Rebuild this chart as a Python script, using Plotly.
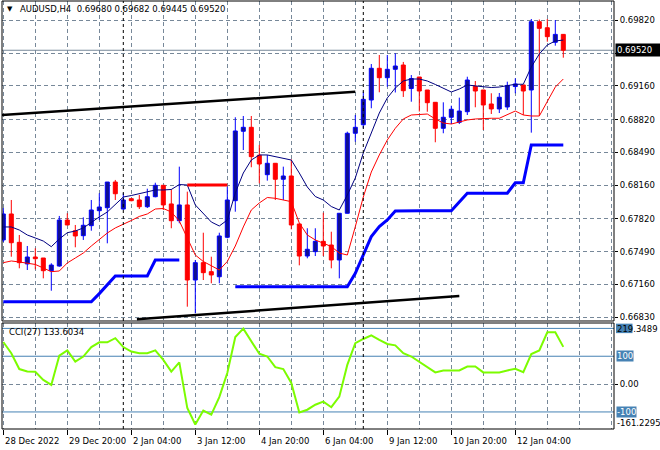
import plotly.graph_objects as go

# ---------------- data (AUDUSD H4) ----------------
open_ = [0.67607, 0.67869, 0.67583, 0.67365, 0.67435, 0.67425, 0.67297, 0.67344, 0.67808, 0.67700,
         0.67650, 0.67751, 0.67902, 0.67932, 0.68191, 0.67919, 0.68023, 0.68010, 0.67942, 0.68043,
         0.68158, 0.67970, 0.67801, 0.67960, 0.67203, 0.67378, 0.67287, 0.67236, 0.67634, 0.68003,
         0.68703, 0.68743, 0.68461, 0.68265, 0.68380, 0.68219, 0.68252, 0.67768, 0.67445, 0.67489,
         0.67593, 0.67556, 0.67405, 0.67876, 0.68683, 0.68769, 0.69018, 0.69338, 0.69243, 0.69328,
         0.69371, 0.69134, 0.69250, 0.69119, 0.68995, 0.68733, 0.68844, 0.68793, 0.68900, 0.69156,
         0.69119, 0.68978, 0.68928, 0.68948, 0.69154, 0.69170, 0.69119, 0.69808, 0.69747, 0.69600,
         0.69680]
high = [0.67929, 0.68010, 0.67657, 0.67546, 0.67523, 0.67425, 0.67372, 0.67849, 0.67876, 0.67758,
        0.67835, 0.68010, 0.68078, 0.68191, 0.68212, 0.68078, 0.68023, 0.68060, 0.68124, 0.68184,
        0.68158, 0.68118, 0.68346, 0.68094, 0.67405, 0.67680, 0.67438, 0.67680, 0.68144, 0.68844,
        0.68857, 0.68857, 0.68565, 0.68464, 0.68380, 0.68346, 0.68420, 0.67768, 0.67725, 0.67725,
        0.67882, 0.67690, 0.67876, 0.68699, 0.68867, 0.69102, 0.69381, 0.69472, 0.69472, 0.69489,
        0.69402, 0.69270, 0.69250, 0.69119, 0.68995, 0.68995, 0.68961, 0.69042, 0.69253, 0.69210,
        0.69119, 0.69086, 0.69089, 0.69203, 0.69237, 0.69170, 0.69835, 0.69830, 0.69835, 0.69825,
        0.69682]
low = [0.67586, 0.67438, 0.67321, 0.67304, 0.67311, 0.67220, 0.67095, 0.67337, 0.67758, 0.67533,
       0.67607, 0.67700, 0.67808, 0.67573, 0.68010, 0.67909, 0.67997, 0.67919, 0.67929, 0.68037,
       0.67909, 0.67725, 0.67775, 0.66934, 0.66867, 0.67203, 0.67170, 0.67170, 0.67624, 0.67892,
       0.68514, 0.68340, 0.68178, 0.68205, 0.68010, 0.68010, 0.67714, 0.67351, 0.67422, 0.67445,
       0.67445, 0.67321, 0.67220, 0.67876, 0.68598, 0.68733, 0.68935, 0.69096, 0.69152, 0.69094,
       0.69049, 0.69001, 0.68902, 0.68900, 0.68592, 0.68683, 0.68776, 0.68776, 0.68867, 0.68945,
       0.68716, 0.68877, 0.68887, 0.68918, 0.69086, 0.68867, 0.68689, 0.68857, 0.69606, 0.69566,
       0.69445]
close = [0.67869, 0.67579, 0.67378, 0.67435, 0.67418, 0.67297, 0.67354, 0.67808, 0.67758, 0.67647,
         0.67755, 0.67909, 0.67939, 0.68191, 0.68073, 0.68010, 0.68003, 0.67942, 0.68043, 0.68158,
         0.67960, 0.67801, 0.67960, 0.67203, 0.67378, 0.67277, 0.67254, 0.67647, 0.68010, 0.68706,
         0.68743, 0.68447, 0.68373, 0.68380, 0.68219, 0.68252, 0.67758, 0.67445, 0.67513, 0.67593,
         0.67546, 0.67405, 0.67876, 0.68683, 0.68743, 0.69025, 0.69338, 0.69243, 0.69328, 0.69361,
         0.69112, 0.69235, 0.69109, 0.68991, 0.68733, 0.68844, 0.68925, 0.68907, 0.69220, 0.69109,
         0.68968, 0.68928, 0.69046, 0.69165, 0.69180, 0.69109, 0.69808, 0.69741, 0.69657, 0.69680,
         0.69520]
ma_fast = [0.67738, 0.67738, 0.67707, 0.67657, 0.67627, 0.67596, 0.67539, 0.67617, 0.67680, 0.67697,
           0.67728, 0.67788, 0.67839, 0.67889, 0.67960, 0.68040, 0.68055, 0.68075, 0.68091, 0.68111,
           0.68111, 0.68116, 0.68166, 0.68161, 0.67960, 0.67869, 0.67788, 0.67748, 0.67808, 0.68081,
           0.68282, 0.68413, 0.68464, 0.68464, 0.68449, 0.68433, 0.68413, 0.68282, 0.68141, 0.68045,
           0.68010, 0.67944, 0.67909, 0.68060, 0.68232, 0.68484, 0.68686, 0.68887, 0.69039, 0.69139,
           0.69210, 0.69230, 0.69230, 0.69210, 0.69175, 0.69139, 0.69099, 0.69129, 0.69170, 0.69160,
           0.69152, 0.69144, 0.69149, 0.69160, 0.69177, 0.69177, 0.69351, 0.69482, 0.69573, 0.69613,
           0.69623]
ma_slow = [0.67378, 0.67395, 0.67385, 0.67372, 0.67360, 0.67324, 0.67287, 0.67294, 0.67375, 0.67425,
           0.67475, 0.67546, 0.67607, 0.67677, 0.67728, 0.67763, 0.67803, 0.67844, 0.67869, 0.67919,
           0.67924, 0.67889, 0.67798, 0.67627, 0.67455, 0.67390, 0.67344, 0.67304, 0.67390, 0.67546,
           0.67738, 0.67909, 0.67980, 0.68035, 0.68027, 0.68010, 0.67993, 0.67778, 0.67657, 0.67607,
           0.67571, 0.67541, 0.67475, 0.67455, 0.67741, 0.68040, 0.68292, 0.68464, 0.68615, 0.68733,
           0.68827, 0.68867, 0.68872, 0.68877, 0.68827, 0.68786, 0.68776, 0.68797, 0.68817, 0.68827,
           0.68834, 0.68834, 0.68834, 0.68867, 0.68907, 0.68867, 0.68857, 0.68857, 0.69008, 0.69149,
           0.69230]
trail_up = [0.66984] * 12 + [0.67066, 0.67155, 0.67244, 0.67244, 0.67244, 0.67244, 0.67244,
            0.67405, 0.67405, 0.67405, 0.67405] + [None] * 6 + [0.67136] * 15 + \
           [0.67271, 0.67465, 0.67641, 0.67741, 0.67808, 0.67899] + [0.67902] * 7 + \
           [0.67990] + [0.68078] * 6 + [0.68184, 0.68184] + [0.68565] * 5
trail_down = [None] * 23 + [0.68161] * 6 + [None] * 42
cci = [151, 111, 54, 45, 44, 15, -3, 102, 121, 81,
       99, 133, 150, 150, 165, 133, 117, 111, 111, 121,
       87, 45, 78, -86, -145, -95, -110, -47, 40, 169,
       199, 153, 109, 99, 61, 54, 4, -102, -92, -74,
       -63, -83, -45, 69, 147, 162, 175, 159, 144, 139,
       111, 99, 81, 62, 42, 49, 49, 49, 63, 63,
       42, 42, 42, 49, 55, 43, 108, 121, 186, 186,
       133.6034]

price_ticks = [0.69820, 0.69490, 0.69160, 0.68820, 0.68490, 0.68160, 0.67820, 0.67490, 0.67160, 0.66830]
# 0.69490 label is hidden under the last-price tag in the reference
price_tick_text = ["0.69820", "", "0.69160", "0.68820", "0.68490",
                   "0.68160", "0.67820", "0.67490", "0.67160", "0.66830"]
time_tick_pos = [0, 8, 16, 24, 32, 40, 48, 56, 64]
time_tick_text = ["28 Dec 2022", "29 Dec 20:00", "2 Jan 04:00", "3 Jan 12:00", "4 Jan 20:00",
                  "6 Jan 04:00", "9 Jan 12:00", "10 Jan 20:00", "12 Jan 04:00"]
week_separators = [15, 45]
trend_upper = [(-0.16, 0.68867), (44, 0.69102)]
trend_lower = [(16.7, 0.66807), (57, 0.67042)]
cci_levels = [200, 100, -100]
cci_min, cci_max = -161.2295, 219.3489
last_price = 0.69520
title_text = "AUDUSD,H4\u00a0\u00a00.69680 0.69682 0.69445 0.69520"
cci_title = "CCI(27) 133.6034"

# ---------------- figure ----------------
n = len(close)
idx = list(range(n))
FONT = "DejaVu Sans"
FS = 8.5
GRID = "#778899"
LEVEL = "#4682B4"
BULL_LINE, BULL_FILL = "#0000FF", "#10108E"
BEAR = "#FF0000"

fig = go.Figure()

def wick_xy(sel):
    xs, ys = [], []
    for i in sel:
        xs += [i, i, None]
        ys += [low[i], high[i], None]
    return xs, ys

def body_xy(sel, hw=0.25):
    xs, ys = [], []
    for i in sel:
        lo, hi = min(open_[i], close[i]), max(open_[i], close[i])
        xs += [i - hw, i + hw, i + hw, i - hw, i - hw, None]
        ys += [lo, lo, hi, hi, lo, None]
    return xs, ys

bull = [i for i in idx if close[i] >= open_[i]]
bear = [i for i in idx if close[i] < open_[i]]

for sel, col in ((bull, BULL_LINE), (bear, BEAR)):
    wx, wy = wick_xy(sel)
    fig.add_trace(go.Scatter(x=wx, y=wy, mode="lines", line=dict(color=col, width=1),
                             hoverinfo="skip", yaxis="y"))
for sel, lc, fc in ((bull, BULL_LINE, BULL_FILL), (bear, BEAR, BEAR)):
    bx, by = body_xy(sel)
    fig.add_trace(go.Scatter(x=bx, y=by, mode="lines", fill="toself", fillcolor=fc,
                             line=dict(color=lc, width=1), hoverinfo="skip", yaxis="y"))

fig.add_trace(go.Scatter(x=idx, y=ma_slow, mode="lines", line=dict(color="#FF0000", width=1), yaxis="y"))
fig.add_trace(go.Scatter(x=idx, y=ma_fast, mode="lines", line=dict(color="#000080", width=1), yaxis="y"))
fig.add_trace(go.Scatter(x=idx, y=trail_up, mode="lines", line=dict(color="#0000FF", width=3),
                         connectgaps=False, yaxis="y"))
fig.add_trace(go.Scatter(x=idx, y=trail_down, mode="lines", line=dict(color="#FF0000", width=3),
                         connectgaps=False, yaxis="y"))
fig.add_trace(go.Scatter(x=idx, y=cci, mode="lines", line=dict(color="#7CFC00", width=2), yaxis="y2"))

# panel geometry (pixels): plot area 2..614 x 1..429 ; main 1..321, cci 323..429
MAIN_DOM = [0.25234, 1.0]
CCI_DOM = [0.0, 0.24766]
PX = 1 / 612  # one pixel in paper-x units

shapes = []
for lv in cci_levels:
    shapes.append(dict(type="line", xref="paper", yref="y2", x0=0, x1=1, y0=lv, y1=lv,
                       line=dict(color=LEVEL, width=1), layer="below"))
shapes.append(dict(type="line", xref="paper", yref="y", x0=0, x1=1, y0=last_price, y1=last_price,
                   line=dict(color="#778899", width=1), layer="below"))
for s in week_separators:
    shapes.append(dict(type="line", xref="x", yref="paper", x0=s, x1=s, y0=0, y1=1,
                       line=dict(color="black", width=1, dash="3px,3px"), layer="above"))
for (a, b) in (trend_upper, trend_lower):
    shapes.append(dict(type="line", xref="x", yref="y", x0=a[0], y0=a[1], x1=b[0], y1=b[1],
                       line=dict(color="black", width=2.5), layer="above"))
shapes.append(dict(type="rect", xref="paper", yref="paper", x0=0, x1=1, y0=MAIN_DOM[0], y1=MAIN_DOM[1],
                   line=dict(color="black", width=1), layer="above"))
shapes.append(dict(type="rect", xref="paper", yref="paper", x0=0, x1=1, y0=CCI_DOM[0], y1=CCI_DOM[1],
                   line=dict(color="black", width=1), layer="above"))
# level-200 label box (its number is covered by the scale maximum in the reference)
shapes.append(dict(type="rect", xref="paper", yref="y2", x0=1 + 2 * PX, x1=1 + 18.5 * PX, y0=183, y1=217,
                   line=dict(width=0), fillcolor=LEVEL, layer="above"))

ann = []
ann.append(dict(text="\u25bc", xref="paper", yref="paper", x=(9.5 - 2) / 612, y=(429 - 9.5) / 428,
                xanchor="center", yanchor="middle", showarrow=False, font=dict(family=FONT, size=7, color="black")))
ann.append(dict(text=title_text, xref="paper", yref="paper", x=(18 - 2) / 612, y=(429 - 9.5) / 428,
                xanchor="left", yanchor="middle", showarrow=False, font=dict(family=FONT, size=FS, color="black")))
ann.append(dict(text=cci_title, xref="paper", yref="paper", x=(7 - 2) / 612, y=(429 - 332) / 428,
                xanchor="left", yanchor="middle", showarrow=False, font=dict(family=FONT, size=FS, color="black")))
ann.append(dict(text="0.69520", xref="paper", yref="y", x=1, y=last_price, xanchor="left", yanchor="middle",
                xshift=1, showarrow=False, bgcolor="black", borderpad=1, width=44, align="left",
                font=dict(family=FONT, size=FS, color="white")))
ann.append(dict(text=f"{cci_max:.4f}", xref="paper", yref="y2", x=1, y=cci_max, xanchor="left", yanchor="top",
                xshift=2, showarrow=False, borderpad=0, font=dict(family=FONT, size=FS, color="black")))
for lv in (100, -100):
    ann.append(dict(text=str(lv), xref="paper", yref="y2", x=1, y=lv, xanchor="left", yanchor="middle", xshift=2,
                    showarrow=False, bgcolor=LEVEL, borderpad=0, font=dict(family=FONT, size=FS, color="white")))
ann.append(dict(text=f"{cci_min:.4f}", xref="paper", yref="y2", x=1, y=cci_min, xanchor="left", yanchor="bottom",
                xshift=2, showarrow=False, borderpad=0, font=dict(family=FONT, size=FS, color="black")))
for p, t in zip(time_tick_pos, time_tick_text):
    ann.append(dict(text=t, xref="x", yref="paper", x=p, y=(429 - 441) / 428, xanchor="left", yanchor="middle",
                    xshift=0, showarrow=False, font=dict(family=FONT, size=FS, color="black")))

fig.update_layout(
    width=660, height=450,
    margin=dict(l=2, r=46, t=1, b=21),
    paper_bgcolor="white", plot_bgcolor="white",
    showlegend=False, hovermode=False,
    shapes=shapes, annotations=ann,
    xaxis=dict(range=[-0.1625, 76.3375], domain=[0, 1], anchor="y2",
               tickmode="array", tickvals=time_tick_pos, showticklabels=False,
               ticks="outside", ticklen=5, tickcolor="black", tickwidth=1,
               showgrid=True, gridcolor=GRID, gridwidth=1, griddash="4px,3px",
               minor=dict(tickvals=list(range(0, 77, 4)), showgrid=True, gridcolor=GRID,
                          gridwidth=1, griddash="4px,3px", ticks=""),
               zeroline=False, showline=False, fixedrange=True),
    yaxis=dict(domain=MAIN_DOM, range=[0.667897, 0.700166], anchor="x", side="right",
               tickmode="array", tickvals=price_ticks, ticktext=price_tick_text,
               ticks="outside", ticklen=3, tickcolor="black",
               tickfont=dict(family=FONT, size=FS, color="black"),
               showgrid=True, gridcolor=GRID, gridwidth=1, griddash="4px,3px",
               zeroline=False, showline=False, fixedrange=True),
    yaxis2=dict(domain=CCI_DOM, range=[cci_min, cci_max], anchor="x", side="right",
                tickmode="array", tickvals=[0], ticktext=["0.00"],
                ticks="outside", ticklen=3, tickcolor="black",
                tickfont=dict(family=FONT, size=FS, color="black"),
                showgrid=True, gridcolor=GRID, gridwidth=1, griddash="4px,3px",
                zeroline=False, showline=False, fixedrange=True),
)

fig.write_html("out.html", config={"displayModeBar": False, "staticPlot": True},
               post_script="document.body.style.margin='0';document.body.style.padding='0';")
